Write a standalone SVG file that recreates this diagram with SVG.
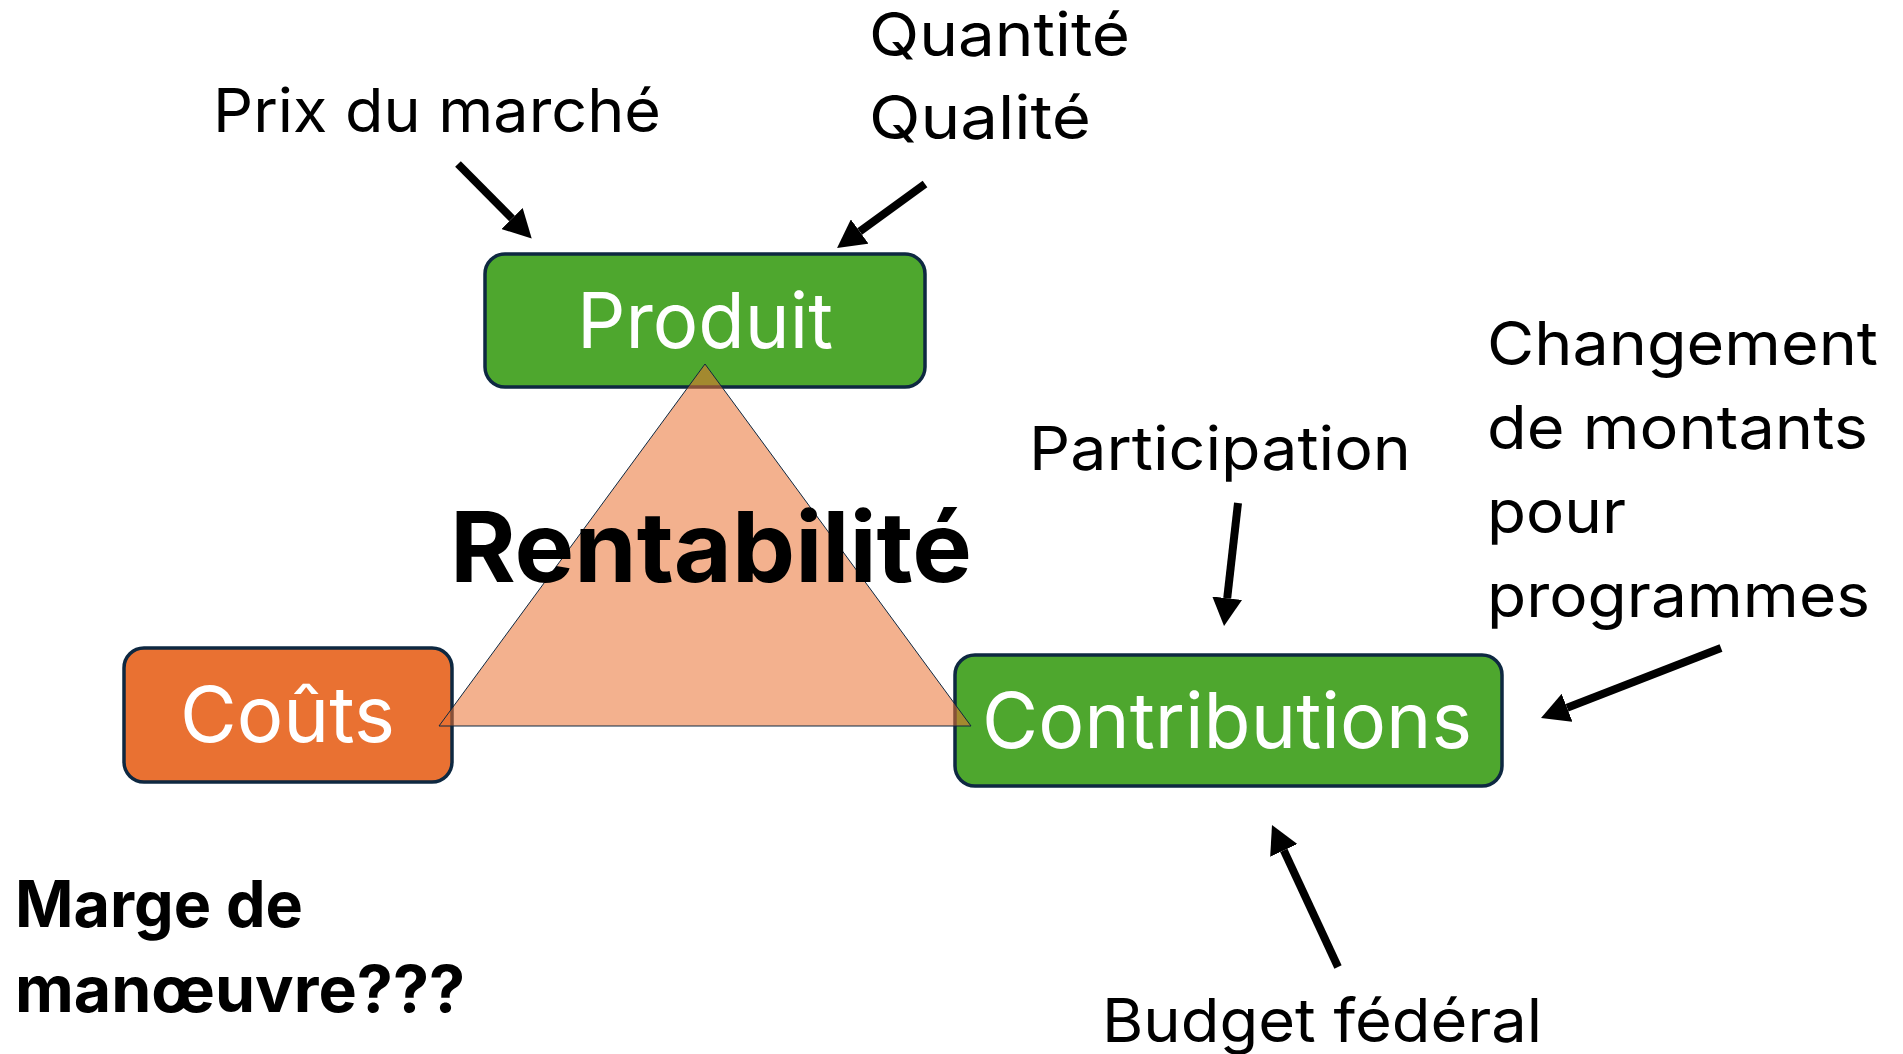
<svg xmlns="http://www.w3.org/2000/svg" width="1903" height="1054" viewBox="0 0 1903 1054">
<style>
.lbl{font-family:Inter,"Liberation Sans",Arial,sans-serif;font-size:61px;fill:#000}
.box{stroke:#0E2841;stroke-width:3.5}
.boxtxt{font-family:Inter,"Liberation Sans",Arial,sans-serif;font-size:77px;fill:#fff}
.bold{font-family:Inter,"Liberation Sans",Arial,sans-serif;font-weight:bold;fill:#000}
.arr{stroke:#000;stroke-width:8;fill:none;marker-end:url(#ah)}
</style>
<defs>
<marker id="ah" markerUnits="userSpaceOnUse" viewBox="0 -15 28 30" refX="0" refY="0" markerWidth="28" markerHeight="30" orient="auto">
<path d="M0,-15 L28,0 L0,15 z" fill="#000"/>
</marker>
</defs>
<rect width="1903" height="1054" fill="#fff"/>
<g id="produit">
<rect class="box" x="485" y="254" width="440" height="133" rx="20" fill="#4EA72E"/>
</g>
<g id="couts">
<rect class="box" x="124" y="648" width="328" height="134" rx="20" fill="#E97132"/>
</g>
<g id="contributions">
<rect class="box" x="955" y="655" width="547" height="131" rx="20" fill="#4EA72E"/>
</g>
<g id="triangle">
<polygon points="705,364 439,726 971,726" fill="#E97132" fill-opacity="0.55" stroke="#0E2841" stroke-width="1"/>
</g>
<g id="labels-box">
<text class="boxtxt" x="577" y="348" textLength="256" lengthAdjust="spacingAndGlyphs">Produit</text>
<text class="boxtxt" x="180" y="742" textLength="215" lengthAdjust="spacingAndGlyphs">Coûts</text>
<text class="boxtxt" x="982" y="748" textLength="490" lengthAdjust="spacingAndGlyphs">Contributions</text>
</g>
<g id="rentabilite">
<text class="bold" x="450" y="582" font-size="98" textLength="522" lengthAdjust="spacingAndGlyphs">Rentabilité</text>
</g>
<g id="prix">
<text class="lbl" x="213" y="132" textLength="448" lengthAdjust="spacingAndGlyphs">Prix du marché</text>
</g>
<g id="quantite">
<text class="lbl" x="869" y="56" textLength="261" lengthAdjust="spacingAndGlyphs">Quantité</text>
<text class="lbl" x="869" y="139" textLength="222" lengthAdjust="spacingAndGlyphs">Qualité</text>
</g>
<g id="participation">
<text class="lbl" x="1029" y="470" textLength="382" lengthAdjust="spacingAndGlyphs">Participation</text>
</g>
<g id="changement">
<text class="lbl" x="1487" y="365" textLength="391" lengthAdjust="spacingAndGlyphs">Changement</text>
<text class="lbl" x="1487" y="449" textLength="381" lengthAdjust="spacingAndGlyphs">de montants</text>
<text class="lbl" x="1487" y="533" textLength="139" lengthAdjust="spacingAndGlyphs">pour</text>
<text class="lbl" x="1487" y="617" textLength="383" lengthAdjust="spacingAndGlyphs">programmes</text>
</g>
<g id="budget">
<text class="lbl" x="1102" y="1042" textLength="440" lengthAdjust="spacingAndGlyphs">Budget fédéral</text>
</g>
<g id="marge">
<text class="bold" x="15" y="927" font-size="64" textLength="288" lengthAdjust="spacingAndGlyphs">Marge de</text>
<text class="bold" x="15" y="1012" font-size="64" textLength="450" lengthAdjust="spacingAndGlyphs">manœuvre???</text>
</g>
<g id="connectors">
<line class="arr" x1="458" y1="164" x2="512" y2="218.5"/>
<line class="arr" x1="925" y1="184" x2="859.7" y2="231.5"/>
<line class="arr" x1="1238" y1="503" x2="1227.2" y2="598.2"/>
<line class="arr" x1="1721" y1="648" x2="1567.1" y2="707.8"/>
<line class="arr" x1="1338" y1="967" x2="1283.8" y2="850.4"/>
</g>
</svg>
